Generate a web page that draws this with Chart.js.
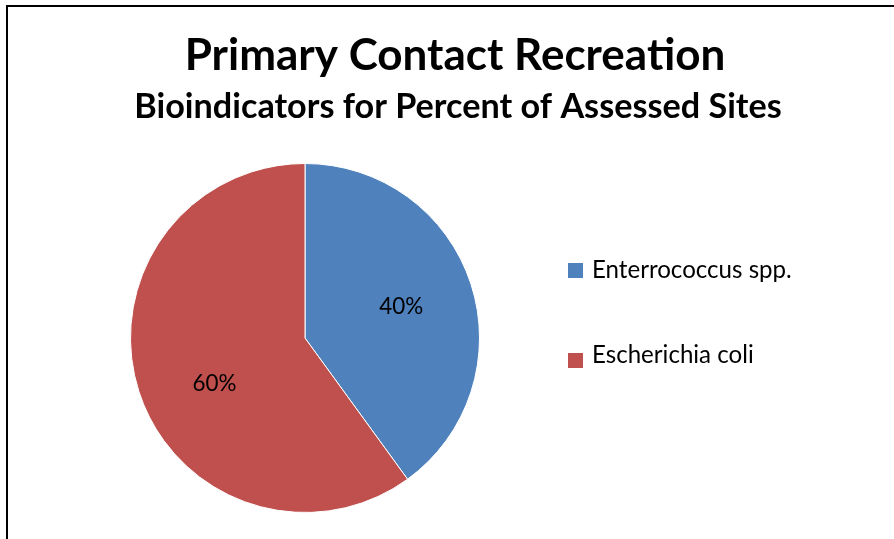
<!DOCTYPE html>
<html>
<head>
<meta charset="utf-8">
<script src="https://cdn.jsdelivr.net/npm/chart.js@4"></script>
<style>
    html, body { margin: 0; padding: 0; background: #fff; overflow: hidden; }
    #wrap { position: relative; width: 894px; height: 539px; }
    #frame {
        position: absolute; left: 6px; top: 5px; width: 900px; height: 600px;
        border: 2px solid #000; box-sizing: border-box; pointer-events: none;
    }
    canvas { position: absolute; left: 0; top: 0; }
</style>
</head>
<body>
<div id="wrap">
    <canvas id="pieChart" width="894" height="539"></canvas>
    <div id="frame"></div>
</div>
<script>
const categorias = ["Enterrococcus spp.", "Escherichia coli"];
const percentuais = [40, 60];
const cores = ["#4F81BD", "#C0504D"];
const titulo = "Primary Contact Recreation";
const subtitulo = "Bioindicators for Percent of Assessed Sites";

const fonte = "Lato, 'Open Sans', sans-serif";

// ajusta o tamanho da fonte para o texto ocupar a largura pedida
function ajustarFonte(ctx, texto, peso, largura) {
    ctx.font = peso + " 40px " + fonte;
    const tam = 40 * largura / ctx.measureText(texto).width;
    ctx.font = peso + " " + tam.toFixed(1) + "px " + fonte;
}

// titulo, legenda e rotulos desenhados a mao
const extras = {
    id: "extras",
    afterDraw(chart) {
        const ctx = chart.ctx;
        ctx.save();
        ctx.fillStyle = "#000";
        ctx.textAlign = "center";
        ctx.textBaseline = "alphabetic";
        ajustarFonte(ctx, titulo, "bold", 540);
        ctx.fillText(titulo, 455, 70);
        ajustarFonte(ctx, subtitulo, "bold", 647);
        ctx.fillText(subtitulo, 458, 118);

        // rotulos de porcentagem
        const meta = chart.getDatasetMeta(0);
        ajustarFonte(ctx, "60%", "normal", 44);
        meta.data.forEach((arc, i) => {
            const meio = (arc.startAngle + arc.endAngle) / 2 - i * 0.15;
            const r = arc.outerRadius * 0.58;
            ctx.fillText(percentuais[i] + "%", arc.x + Math.cos(meio) * r, arc.y + Math.sin(meio) * r + 7.5);
        });

        // legenda
        ctx.textAlign = "left";
        ajustarFonte(ctx, categorias[0], "normal", 200);
        categorias.forEach((c, i) => {
            ctx.fillStyle = cores[i];
            ctx.fillRect(568, 263 + i * 90, 15, 15);
            ctx.fillStyle = "#000";
            ctx.fillText(c, 592, 278 + i * 85);
        });
        ctx.restore();
    }
};

new Chart(document.getElementById("pieChart").getContext("2d"), {
    type: "pie",
    data: {
        labels: categorias,
        datasets: [{
            data: percentuais,
            backgroundColor: cores,
            borderColor: "#fff",
            borderWidth: 1
        }]
    },
    options: {
        responsive: false,
        animation: false,
        layout: { padding: { left: 130, right: 414, top: 163, bottom: 26 } },
        plugins: {
            legend: { display: false },
            title: { display: false },
            tooltip: { enabled: false }
        }
    },
    plugins: [extras]
});
</script>
</body>
</html>
